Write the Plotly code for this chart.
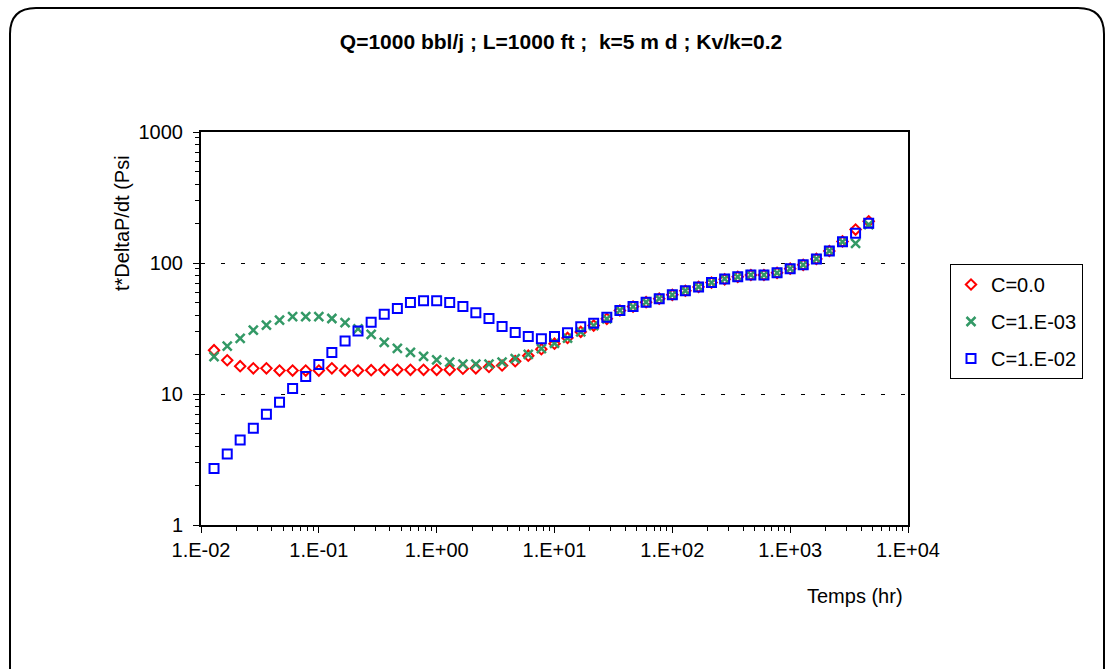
import plotly.graph_objects as go

# ---- data ----
temps_hr = [0.0129, 0.0167, 0.0215, 0.0278, 0.0359, 0.0464, 0.0599, 0.0774, 0.1,
            0.129, 0.167, 0.215, 0.278, 0.359, 0.464, 0.599, 0.774, 1.0,
            1.29, 1.67, 2.15, 2.78, 3.59, 4.64, 5.99, 7.74, 10,
            12.9, 16.7, 21.5, 27.8, 35.9, 46.4, 59.9, 77.4, 100,
            129, 167, 215, 278, 359, 464, 599, 774, 1000,
            1290, 1670, 2150, 2780, 3590, 4640]

c_00 = [21.6, 18.1, 16.3, 15.7, 15.7, 15.1, 15.1, 15.1, 15.1, 15.7, 15.1, 15.1, 15.2,
        15.3, 15.3, 15.3, 15.3, 15.3, 15.3, 15.6, 15.7, 16.1, 16.5, 17.8, 19.6, 22.0,
        24.2, 26.8, 29.8, 33.3, 37.5, 43.4, 46.5, 50.2, 53.4, 57.2, 61.4, 65.7, 70.9,
        75.0, 78.5, 81.0, 81.0, 84.2, 90.5, 96.8, 107.5, 123.5, 146, 180, 208]

c_1e3 = [19.3, 23.2, 26.6, 30.7, 33.6, 36.6, 38.9, 38.9, 38.9, 37.7, 35.0, 31.4, 28.5,
         24.8, 22.3, 20.8, 19.4, 18.2, 17.5, 16.9, 16.9, 16.9, 17.5, 18.6, 20.1, 22.2,
         24.4, 26.7, 29.8, 33.3, 37.5, 43.4, 46.5, 50.2, 53.4, 57.2, 61.4, 65.7, 70.9,
         75.5, 78.5, 81.0, 81.0, 84.2, 90.5, 96.8, 107.5, 123.5, 145, 141, 196]

c_1e2 = [2.7, 3.48, 4.45, 5.48, 7.0, 8.65, 11.0, 13.6, 16.8, 20.7, 25.4, 30.3, 35.3,
         40.6, 44.9, 49.9, 51.5, 51.5, 49.9, 46.5, 41.8, 37.7, 32.8, 29.5, 27.5, 26.4,
         27.5, 29.3, 32.6, 34.7, 38.6, 43.4, 46.5, 50.2, 53.4, 57.2, 61.4, 65.7, 70.9,
         75.5, 78.5, 81.0, 81.0, 84.2, 90.5, 96.8, 107.5, 123.5, 145.5, 169, 201]

series_names = ["C=0.0", "C=1.E-03", "C=1.E-02"]
x_tickvals = [0.01, 0.1, 1, 10, 100, 1000, 10000]
x_ticktext = ["1.E-02", "1.E-01", "1.E+00", "1.E+01", "1.E+02", "1.E+03", "1.E+04"]
y_tickvals = [1, 10, 100, 1000]
y_ticktext = ["1", "10", "100", "1000"]

title_text = "Q=1000 bbl/j ; L=1000 ft ;  k=5 m d ; Kv/k=0.2"
xtitle = "Temps (hr)"
ytitle = "t*DeltaP/dt (Psi"

# ---- layout geometry (pixels) ----
W, H = 1111, 669
L, R, T, B = 201, 908, 132, 525
FONT = "Liberation Sans, Arial, sans-serif"


def px(x):
    return (x - L) / (R - L)


def py(y):
    return (B - y) / (B - T)


fig = go.Figure()
fig.add_trace(go.Scatter(
    x=temps_hr, y=c_00, mode="markers", name=series_names[0], legendgroup="a",
    marker=dict(symbol="diamond-open", size=8, color="#FF0000", line=dict(width=2, color="#FF0000"))))
fig.add_trace(go.Scatter(
    x=temps_hr, y=c_1e3, mode="markers", name=series_names[1], legendgroup="b",
    marker=dict(symbol="x-thin-open", size=9, color="#339966", line=dict(width=2.5, color="#339966"))))
fig.add_trace(go.Scatter(
    x=temps_hr, y=c_1e2, mode="markers", name=series_names[2], legendgroup="c",
    marker=dict(symbol="square-open", size=9, color="#0000FF", line=dict(width=2, color="#0000FF"))))

axis_font = dict(family=FONT, size=20, color="black")

fig.update_xaxes(
    type="log", range=[-2, 4], tickvals=x_tickvals, ticktext=x_ticktext,
    tickfont=axis_font, showgrid=False, zeroline=False,
    showline=True, linecolor="black", linewidth=2, mirror=True,
    ticks="outside", ticklen=6, tickwidth=1, tickcolor="black",
    minor=dict(dtick="D1", ticks="outside", ticklen=4, tickcolor="black", tickwidth=1, showgrid=False),
)
fig.update_yaxes(
    type="log", range=[0, 3], tickvals=y_tickvals, ticktext=y_ticktext,
    tickfont=axis_font, showgrid=True, gridcolor="black", gridwidth=1, griddash="4px,16px",
    zeroline=False, showline=True, linecolor="black", linewidth=2, mirror=True,
    ticks="outside", ticklen=6, tickwidth=1, tickcolor="black", ticklabelstandoff=6,
    minor=dict(dtick="D1", ticks="outside", ticklen=4, tickcolor="black", tickwidth=1, showgrid=False),
)

# rounded outer frame
x0, x1, y0, y1, r = 10, 1104, 8, 700, 26
path = (f"M {px(x0)},{py(y1)} L {px(x0)},{py(y0 + r)} "
        f"Q {px(x0)},{py(y0)} {px(x0 + r)},{py(y0)} "
        f"L {px(x1 - r)},{py(y0)} Q {px(x1)},{py(y0)} {px(x1)},{py(y0 + r)} "
        f"L {px(x1)},{py(y1)}")

fig.update_layout(
    width=W, height=H, autosize=False,
    margin=dict(l=L, r=W - R, t=T, b=H - B),
    paper_bgcolor="white", plot_bgcolor="white",
    font=dict(family=FONT, size=20, color="black"),
    title=dict(text="<b>" + title_text + "</b>", x=(561) / W, xanchor="center",
               y=1 - 42 / H, yanchor="middle", font=dict(family=FONT, size=21, color="black")),
    legend=dict(x=px(950), y=py(264), xanchor="left", yanchor="top",
                bordercolor="black", borderwidth=1, bgcolor="white",
                font=dict(family=FONT, size=20, color="black"), tracegroupgap=8,
                itemwidth=30),
    shapes=[dict(type="path", path=path, xref="paper", yref="paper",
                 line=dict(color="black", width=2), layer="below")],
    annotations=[
        dict(text=ytitle, textangle=-90, x=px(122), y=py(293), xref="paper", yref="paper",
             xanchor="center", yanchor="bottom", showarrow=False,
             font=dict(family=FONT, size=20, color="black")),
        dict(text=xtitle, x=px(905), y=py(596), xref="paper", yref="paper",
             xanchor="right", yanchor="middle", showarrow=False,
             font=dict(family=FONT, size=20, color="black")),
    ],
)

fig.write_html("out.html")
